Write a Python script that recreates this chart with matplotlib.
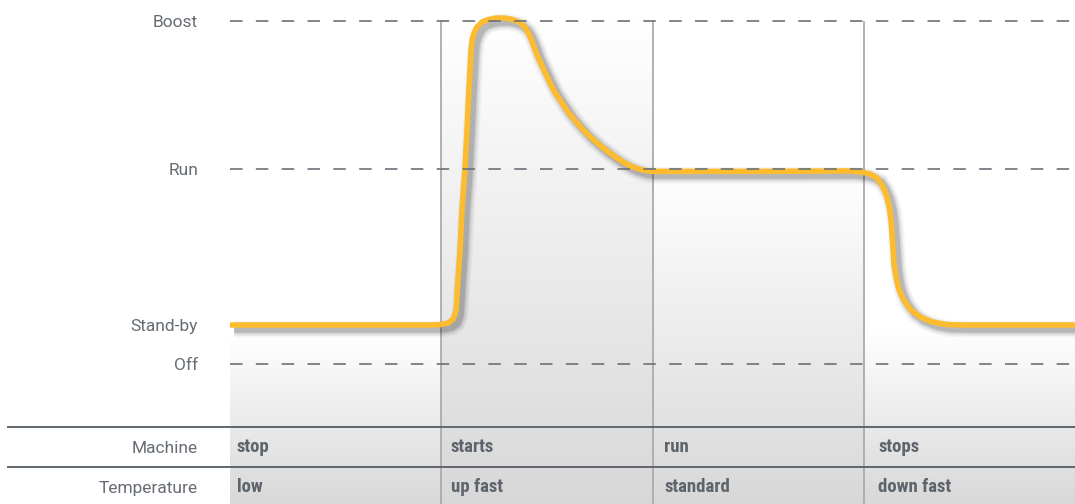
import numpy as np
import matplotlib
matplotlib.use("Agg")
import matplotlib.pyplot as plt
import matplotlib.patheffects as pe
from matplotlib.colors import LinearSegmentedColormap
from matplotlib import font_manager

# levels of the machine state (arbitrary units)
level_names = ["Off", "Stand-by", "Run", "Boost"]
level_values = [0, 10, 50, 88]
dashed_levels = ["Off", "Run", "Boost"]

# phases (one unit of time each)
machine = ["stop", "starts", "run", "stops"]
temperature = ["low", "up fast", "standard", "down fast"]
row_names = ["Machine", "Temperature"]
# level where the shaded area of each phase begins
shade_top = [7.5, 88, 49, 8.5]

# curve
t = [0.000, 0.947, 0.994, 1.032, 1.056, 1.070, 1.075, 1.079, 1.089, 1.098, 1.112,
     1.122, 1.131, 1.141, 1.146, 1.155, 1.169, 1.193, 1.221, 1.259, 1.302, 1.340,
     1.368, 1.396, 1.415, 1.430, 1.453, 1.477, 1.501, 1.529, 1.562, 1.600, 1.643,
     1.690, 1.737, 1.785, 1.832, 1.870, 1.908, 1.955, 2.002, 2.130, 2.509, 2.935,
     2.992, 3.030, 3.063, 3.086, 3.105, 3.120, 3.129, 3.134, 3.139, 3.143, 3.153,
     3.167, 3.191, 3.224, 3.266, 3.323, 3.394, 3.479, 4.000]
level = [10.0, 10.0, 10.1, 10.5, 11.5, 13.6, 17.7, 21.5, 29.2, 39.5, 49.7,
         60.0, 70.3, 80.5, 83.1, 84.9, 86.4, 87.7, 88.3, 88.7, 88.7, 88.3,
         87.7, 86.4, 84.6, 82.6, 79.2, 76.4, 73.6, 70.5, 67.7, 64.6, 61.8,
         59.0, 56.7, 54.6, 52.8, 51.5, 50.5, 49.7, 49.4, 49.4, 49.4, 49.5,
         49.2, 48.7, 47.7, 45.9, 43.6, 40.5, 36.9, 33.1, 29.2, 25.6, 22.1,
         19.0, 16.2, 13.8, 12.1, 10.8, 10.1, 10.0, 10.0]

text_col = "#5d646b"
plt.rcParams["font.family"] = ["Roboto", "DejaVu Sans"]

names = {f.name for f in font_manager.fontManager.ttflist}
narrow = [n for n in ["Liberation Sans Narrow", "Roboto Condensed",
                      "DejaVu Sans Condensed"] if n in names] + ["DejaVu Sans"]

fig = plt.figure(figsize=(10.75, 5.04), dpi=100)
ax = fig.add_axes([230 / 1075, 0, 845 / 1075, 1])
y_lo, y_hi = -140 / 3.9, 364 / 3.9
row_lines = [-63 / 3.9, -103 / 3.9]
row_mid = [-83 / 3.9, -123 / 3.9]

# shaded columns
cmap = LinearSegmentedColormap.from_list("shade", ["#ffffff", "#d8d8d8"])
grad = np.linspace(0, 1, 256).reshape(-1, 1)
for i, top in enumerate(shade_top):
    ax.imshow(grad, cmap=cmap, aspect="auto", extent=[i, i + 1, y_lo, top],
              origin="upper", zorder=0, interpolation="bicubic")

# phase separators
ax.vlines(range(1, len(machine)), y_lo, max(level_values), color="#ababab",
          lw=1.3, zorder=1)

# curve with soft shadow
shadow = [pe.SimpleLineShadow(offset=(3, -3), shadow_color="black",
                              alpha=a, linewidth=w) for w, a in
          [(12, 0.04), (9.5, 0.06), (7, 0.09), (5, 0.12)]]
ax.plot(t, level, color="#fdbb30", lw=4, solid_capstyle="butt",
        solid_joinstyle="round", zorder=3, path_effects=shadow + [pe.Normal()])

# dashed reference levels
for name in dashed_levels:
    v = level_values[level_names.index(name)]
    ax.hlines(v, 0, len(machine), color="#6b7178", lw=1.2,
              linestyles=(0, (7.5, 8)), zorder=4)

# table rows
for y in row_lines:
    ax.axhline(y, xmin=-222 / 845, xmax=1, color="#5f656c", lw=1.4,
               clip_on=False, zorder=5)
for i in range(len(machine)):
    for row, vals in zip(row_mid, [machine, temperature]):
        ax.text(i + 0.033 + 0.0116 * i, row, vals[i], va="center", ha="left",
                fontsize=13.5, fontweight="bold", fontstretch="condensed",
                color=text_col, family=narrow, zorder=6)

ax.set_xlim(0, len(machine))
ax.set_ylim(y_lo, y_hi)
ax.set_xticks([])
ax.set_yticks(level_values + row_mid, level_names + row_names)
ax.tick_params(axis="y", length=0, pad=23, labelsize=12.5, labelcolor="#666c73")
for s in ax.spines.values():
    s.set_visible(False)

fig.savefig("out.png", dpi=100)
